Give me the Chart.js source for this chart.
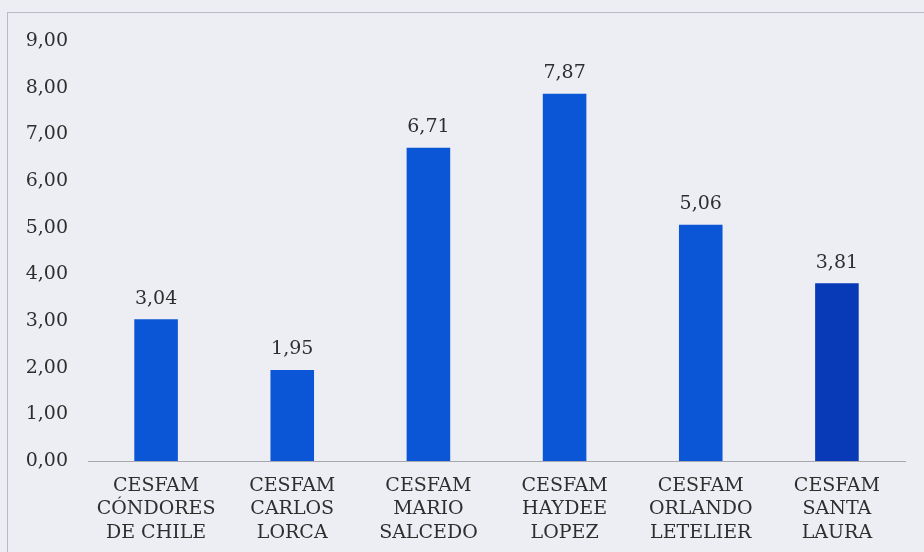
<!DOCTYPE html>
<html>
<head>
<meta charset="utf-8">
<script src="https://cdn.jsdelivr.net/npm/chart.js@4/dist/chart.umd.min.js"></script>
<style>
  html, body { margin: 0; padding: 0; background: #eceef4; }
  #wrap { width: 924px; height: 552px; }
</style>
</head>
<body>
<div id="wrap"><canvas id="chart" width="924" height="552"></canvas></div>
<script>
// datos
const categorias = [
    ["CESFAM", "CÓNDORES", "DE CHILE"],
    ["CESFAM", "CARLOS", "LORCA"],
    ["CESFAM", "MARIO", "SALCEDO"],
    ["CESFAM", "HAYDEE", "LOPEZ"],
    ["CESFAM", "ORLANDO", "LETELIER"],
    ["CESFAM", "SANTA", "LAURA"]
];
const valores = [3.04, 1.95, 6.71, 7.87, 5.06, 3.81];
const coloresBarras = ["#0b56d6", "#0b56d6", "#0b56d6", "#0b56d6", "#0b56d6", "#0839b6"];

const fuente = "'DejaVu Serif', 'Liberation Serif', serif";
const colorTexto = "#2e2e2e";

function formatoComa(v) {
    return v.toFixed(2).replace(".", ",");
}

// fondo y marco del gráfico
const fondoPlugin = {
    id: "fondo",
    beforeDraw(chart) {
        const ctx = chart.ctx;
        ctx.save();
        ctx.fillStyle = "#eceef4";
        ctx.fillRect(0, 0, chart.width, chart.height);
        ctx.strokeStyle = "#b9bbc2";
        ctx.lineWidth = 1;
        ctx.strokeRect(7.5, 12.5, chart.width + 10, chart.height + 10);
        ctx.restore();
    }
};

// etiquetas de valor encima de cada barra
const etiquetasPlugin = {
    id: "etiquetas",
    afterDatasetsDraw(chart) {
        const ctx = chart.ctx;
        const meta = chart.getDatasetMeta(0);
        ctx.save();
        ctx.font = "19px " + fuente;
        ctx.fillStyle = colorTexto;
        ctx.textAlign = "center";
        ctx.textBaseline = "bottom";
        meta.data.forEach((bar, i) => {
            ctx.fillText(formatoComa(valores[i]), bar.x, bar.y - 11);
        });
        ctx.restore();
    }
};

new Chart(document.getElementById("chart"), {
    type: "bar",
    data: {
        labels: categorias,
        datasets: [{
            data: valores,
            backgroundColor: coloresBarras,
            borderWidth: 0,
            categoryPercentage: 1,
            barPercentage: 0.32
        }]
    },
    options: {
        responsive: false,
        animation: false,
        layout: { padding: { top: 41, right: 19, left: 0, bottom: 0 } },
        plugins: {
            legend: { display: false },
            tooltip: { enabled: false }
        },
        scales: {
            x: {
                grid: { display: false },
                border: { display: true, color: "#a6a8ae", width: 1 },
                ticks: {
                    color: colorTexto,
                    font: { family: fuente, size: 19, lineHeight: 1.24 },
                    padding: 5,
                    maxRotation: 0,
                    autoSkip: false
                },
                afterFit(scale) { scale.height = 91; }
            },
            y: {
                min: 0,
                max: 9,
                grid: { display: false, drawTicks: false },
                border: { display: false },
                ticks: {
                    stepSize: 1,
                    color: colorTexto,
                    font: { family: fuente, size: 19 },
                    padding: 20,
                    callback: v => formatoComa(v)
                },
                afterFit(scale) { scale.width = 88; }
            }
        }
    },
    plugins: [fondoPlugin, etiquetasPlugin]
});
</script>
</body>
</html>
